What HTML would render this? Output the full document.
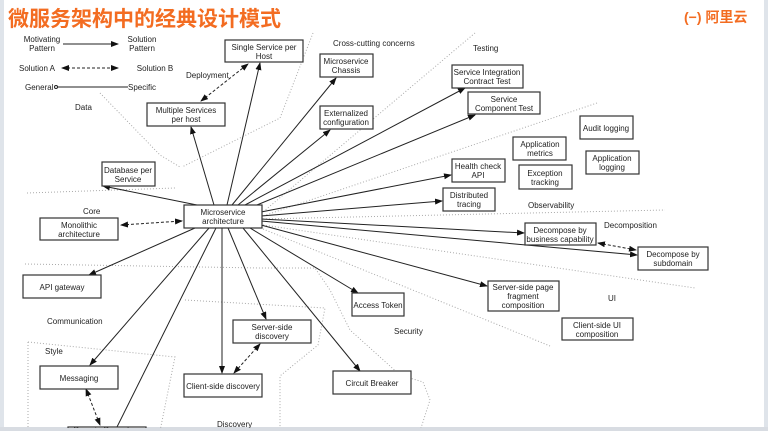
<!DOCTYPE html>
<html><head><meta charset="utf-8"><style>
html,body{margin:0;padding:0;width:768px;height:431px;overflow:hidden;background:#fff}
svg{display:block}
text{font-family:"Liberation Sans",sans-serif;font-size:8px;fill:#222}
.t{font-family:"Liberation Sans","Noto Sans CJK SC",sans-serif;font-weight:bold;font-size:21px;fill:#f36c21}
rect.b{fill:#fff;stroke:#333;stroke-width:1.2}
.l{stroke:#222;stroke-width:1;fill:none}
.d{stroke:#222;stroke-width:1;stroke-dasharray:3,2;fill:none}
.g{stroke:#aaa;stroke-width:1;stroke-dasharray:1,2;fill:none}
</style></head><body>
<svg width="768" height="431" viewBox="0 0 768 431">
<defs><marker id="a" markerWidth="8" markerHeight="6" refX="7" refY="3" orient="auto" markerUnits="userSpaceOnUse"><path d="M0,0L8,3L0,6z" fill="#111"/></marker>
<marker id="s" markerWidth="8" markerHeight="6" refX="1" refY="3" orient="auto" markerUnits="userSpaceOnUse"><path d="M8,0L0,3L8,6z" fill="#111"/></marker></defs>
<rect x="0" y="0" width="768" height="431" fill="#fff"/>
<rect x="0" y="0" width="4" height="431" fill="#dfe4ea"/>
<rect x="764" y="0" width="4" height="431" fill="#dfe4ea"/>
<rect x="0" y="427" width="768" height="4" fill="#d8dce2"/>
<text x="8" y="26" class="t">微服务架构中的经典设计模式</text>
<text x="684" y="22" style="font-family:'Liberation Sans','Noto Sans CJK SC',sans-serif;font-size:14px;font-weight:bold;fill:#f36c21">(−) 阿里云</text>

<!-- dotted region lines -->
<path class="g" d="M313,33 L280,118 L182,167"/>
<path class="g" d="M100,93 L160,155 L180,167"/>
<path class="g" d="M27,193 L175,188"/>
<path class="g" d="M475,33 L263,212"/>
<path class="g" d="M597,103 L263,216"/>
<path class="g" d="M263,219 L665,210"/>
<path class="g" d="M263,225 L695,288"/>
<path class="g" d="M263,229 L550,346"/>
<path class="g" d="M25,264 L260,268 L315,268 L330,290 L350,330 L400,375 L423,382 L430,400 L420,431"/>
<path class="g" d="M185,300 L325,308 L318,345 L280,376 L280,431"/>
<path class="g" d="M28,342 L175,357 L160,431"/>
<path class="g" d="M28,342 L28,431"/>

<!-- legend -->
<text x="42" y="42" text-anchor="middle">Motivating</text><text x="42" y="51" text-anchor="middle">Pattern</text>
<line class="l" x1="63" y1="44" x2="118" y2="44" marker-end="url(#a)"/>
<text x="142" y="42" text-anchor="middle">Solution</text><text x="142" y="51" text-anchor="middle">Pattern</text>
<text x="37" y="71" text-anchor="middle">Solution A</text>
<line class="d" x1="62" y1="68" x2="118" y2="68" marker-start="url(#s)" marker-end="url(#a)"/>
<text x="155" y="71" text-anchor="middle">Solution B</text>
<text x="25" y="90">General</text>
<line class="l" x1="56" y1="87" x2="128" y2="87"/><circle cx="56" cy="87" r="1.5" fill="#fff" stroke="#222"/>
<text x="128" y="90">Specific</text>

<!-- region labels -->
<text x="186" y="78">Deployment</text>
<text x="75" y="110">Data</text>
<text x="333" y="46">Cross-cutting concerns</text>
<text x="473" y="51">Testing</text>
<text x="83" y="214">Core</text>
<text x="528" y="208">Observability</text>
<text x="604" y="228">Decomposition</text>
<text x="608" y="301">UI</text>
<text x="394" y="334">Security</text>
<text x="47" y="324">Communication</text>
<text x="45" y="354">Style</text>
<text x="217" y="427">Discovery</text>

<!-- arrows from hub -->
<g class="l">
<line x1="197" y1="205" x2="103" y2="186" marker-end="url(#a)"/>
<line x1="214" y1="205" x2="191" y2="127" marker-end="url(#a)"/>
<line x1="227" y1="205" x2="260" y2="63" marker-end="url(#a)"/>
<line x1="232" y1="205" x2="336" y2="78" marker-end="url(#a)"/>
<line x1="238" y1="205" x2="330" y2="130" marker-end="url(#a)"/>
<line x1="245" y1="205" x2="465" y2="88" marker-end="url(#a)"/>
<line x1="252" y1="207" x2="475" y2="115" marker-end="url(#a)"/>
<line x1="261" y1="212" x2="451" y2="175" marker-end="url(#a)"/>
<line x1="261" y1="216" x2="442" y2="201" marker-end="url(#a)"/>
<line x1="261" y1="219" x2="524" y2="233" marker-end="url(#a)"/>
<line x1="261" y1="221" x2="637" y2="255" marker-end="url(#a)"/>
<line x1="261" y1="225" x2="487" y2="286" marker-end="url(#a)"/>
<line x1="250" y1="228" x2="358" y2="293" marker-end="url(#a)"/>
<line x1="243" y1="228" x2="360" y2="371" marker-end="url(#a)"/>
<line x1="228" y1="228" x2="266" y2="319" marker-end="url(#a)"/>
<line x1="222" y1="228" x2="222" y2="373" marker-end="url(#a)"/>
<line x1="216" y1="228" x2="115" y2="431" />
<line x1="209" y1="228" x2="90" y2="365" marker-end="url(#a)"/>
<line x1="195" y1="228" x2="89" y2="275" marker-end="url(#a)"/>
</g>
<line class="d" x1="121" y1="225" x2="182" y2="221" marker-start="url(#s)" marker-end="url(#a)"/>
<line class="d" x1="201" y1="101" x2="248" y2="64" marker-start="url(#s)" marker-end="url(#a)"/>
<line class="d" x1="598" y1="243" x2="636" y2="250" marker-start="url(#s)" marker-end="url(#a)"/>
<line class="d" x1="260" y1="344" x2="234" y2="373" marker-start="url(#s)" marker-end="url(#a)"/>
<line class="d" x1="86" y1="389" x2="100" y2="425" marker-start="url(#s)" marker-end="url(#a)"/>

<!-- boxes -->
<g>
<rect class="b" x="225" y="40" width="78" height="22"/><text x="264" y="50" text-anchor="middle">Single Service per</text><text x="264" y="59" text-anchor="middle">Host</text>
<rect class="b" x="320" y="54" width="53" height="23"/><text x="346" y="64" text-anchor="middle">Microservice</text><text x="346" y="73" text-anchor="middle">Chassis</text>
<rect class="b" x="147" y="103" width="78" height="23"/><text x="186" y="113" text-anchor="middle">Multiple Services</text><text x="186" y="122" text-anchor="middle">per host</text>
<rect class="b" x="320" y="106" width="53" height="23"/><text x="346" y="116" text-anchor="middle">Externalized</text><text x="346" y="125" text-anchor="middle">configuration</text>
<rect class="b" x="452" y="65" width="71" height="23"/><text x="487" y="75" text-anchor="middle">Service Integration</text><text x="487" y="84" text-anchor="middle">Contract Test</text>
<rect class="b" x="468" y="92" width="72" height="22"/><text x="504" y="102" text-anchor="middle">Service</text><text x="504" y="111" text-anchor="middle">Component Test</text>
<rect class="b" x="580" y="116" width="53" height="23"/><text x="606" y="131" text-anchor="middle">Audit logging</text>
<rect class="b" x="513" y="137" width="53" height="23"/><text x="540" y="147" text-anchor="middle">Application</text><text x="540" y="156" text-anchor="middle">metrics</text>
<rect class="b" x="586" y="151" width="53" height="23"/><text x="612" y="161" text-anchor="middle">Application</text><text x="612" y="170" text-anchor="middle">logging</text>
<rect class="b" x="452" y="159" width="53" height="23"/><text x="478" y="169" text-anchor="middle">Health check</text><text x="478" y="178" text-anchor="middle">API</text>
<rect class="b" x="519" y="165" width="53" height="24"/><text x="545" y="176" text-anchor="middle">Exception</text><text x="545" y="185" text-anchor="middle">tracking</text>
<rect class="b" x="443" y="188" width="52" height="23"/><text x="469" y="198" text-anchor="middle">Distributed</text><text x="469" y="207" text-anchor="middle">tracing</text>
<rect class="b" x="102" y="162" width="53" height="24"/><text x="128" y="173" text-anchor="middle">Database per</text><text x="128" y="182" text-anchor="middle">Service</text>
<rect class="b" x="184" y="205" width="78" height="23"/><text x="223" y="215" text-anchor="middle">Microservice</text><text x="223" y="224" text-anchor="middle">architecture</text>
<rect class="b" x="40" y="218" width="78" height="22"/><text x="79" y="228" text-anchor="middle">Monolithic</text><text x="79" y="237" text-anchor="middle">architecture</text>
<rect class="b" x="525" y="223" width="71" height="22"/><text x="560" y="233" text-anchor="middle">Decompose by</text><text x="560" y="242" text-anchor="middle">business capability</text>
<rect class="b" x="638" y="247" width="70" height="23"/><text x="673" y="257" text-anchor="middle">Decompose by</text><text x="673" y="266" text-anchor="middle">subdomain</text>
<rect class="b" x="23" y="275" width="78" height="23"/><text x="62" y="290" text-anchor="middle">API gateway</text>
<rect class="b" x="488" y="281" width="71" height="30"/><text x="523" y="290" text-anchor="middle">Server-side page</text><text x="523" y="299" text-anchor="middle">fragment</text><text x="523" y="308" text-anchor="middle">composition</text>
<rect class="b" x="352" y="293" width="52" height="23"/><text x="378" y="308" text-anchor="middle">Access Token</text>
<rect class="b" x="233" y="320" width="78" height="23"/><text x="272" y="330" text-anchor="middle">Server-side</text><text x="272" y="339" text-anchor="middle">discovery</text>
<rect class="b" x="562" y="318" width="71" height="22"/><text x="597" y="328" text-anchor="middle">Client-side  UI</text><text x="597" y="337" text-anchor="middle">composition</text>
<rect class="b" x="40" y="366" width="78" height="23"/><text x="79" y="381" text-anchor="middle">Messaging</text>
<rect class="b" x="184" y="374" width="78" height="23"/><text x="223" y="389" text-anchor="middle">Client-side discovery</text>
<rect class="b" x="333" y="371" width="78" height="23"/><text x="372" y="386" text-anchor="middle">Circuit Breaker</text>
<rect class="b" x="68" y="427" width="78" height="20"/><text x="107" y="433" text-anchor="middle">Remote Procedure</text>
</g>
<rect x="0" y="428" width="768" height="3" fill="#d8dce2"/>
</svg>
</body></html>
